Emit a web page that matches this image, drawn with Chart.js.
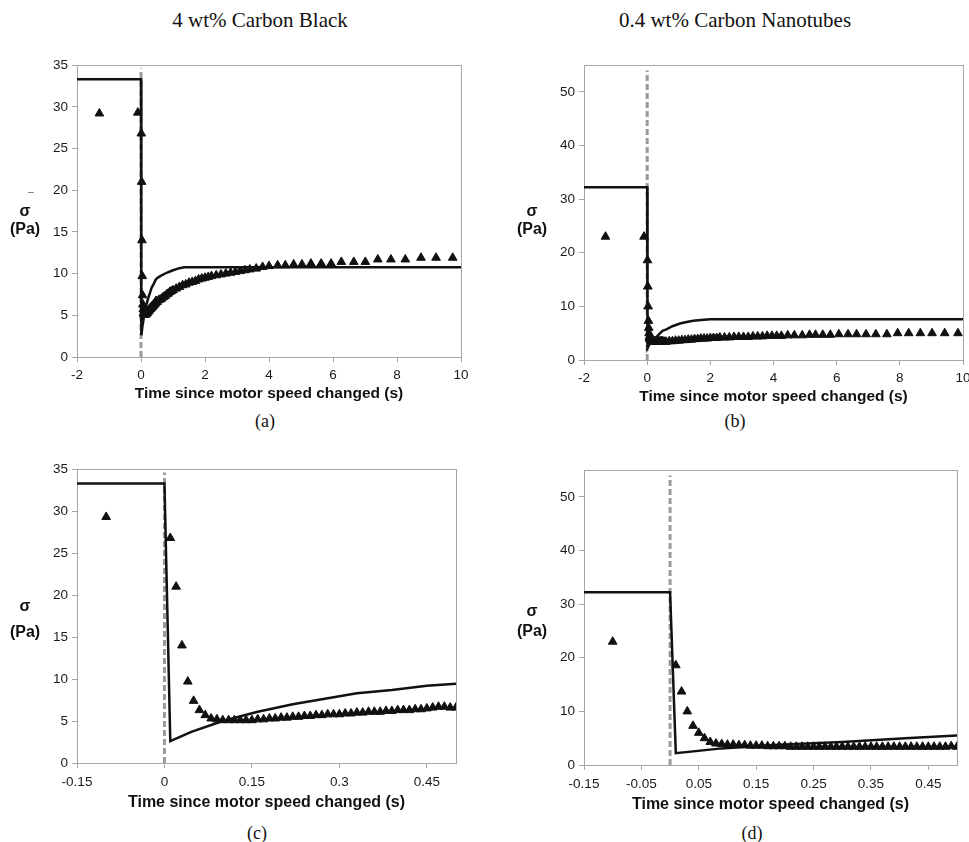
<!DOCTYPE html>
<html>
<head>
<meta charset="utf-8">
<title>Stress response after motor speed change</title>
<script src="https://cdn.jsdelivr.net/npm/chart.js@4.4.1/dist/chart.umd.min.js"></script>
<style>
  html, body { margin: 0; padding: 0; background: #fff; overflow: hidden; }
  body { width: 969px; height: 842px; position: relative; }
  .panel { position: absolute; }
  .head { position: absolute; font-family: 'Liberation Serif', 'Times New Roman', serif; font-size: 21px; color: #111; transform: translate(-50%, -50%); white-space: nowrap; }
  .tag { position: absolute; font-family: 'Liberation Serif', 'Times New Roman', serif; font-size: 18px; color: #111; transform: translate(-50%, -50%); }
  .ylab { position: absolute; font-family: 'Liberation Sans', Arial, sans-serif; font-weight: bold; font-size: 16px; color: #111; transform: translate(-50%, -50%); white-space: nowrap; }
</style>
</head>
<body>
<div class="head" style="left:260px; top:20px;">4 wt% Carbon Black</div>
<div class="head" style="left:735px; top:20px;">0.4 wt% Carbon Nanotubes</div>

<div class="panel" style="left:17px; top:53px; width:464px; height:354px;"><canvas id="chartA"></canvas></div>
<div class="panel" style="left:524px; top:53px; width:459px; height:357px;"><canvas id="chartB"></canvas></div>
<div class="panel" style="left:17px; top:457px; width:459px; height:359px;"><canvas id="chartC"></canvas></div>
<div class="panel" style="left:524px; top:458px; width:453px; height:360px;"><canvas id="chartD"></canvas></div>

<div class="ylab" style="left:31px; top:191px; font-size:10px; font-weight:normal; color:#555;">–</div>
<div class="ylab" style="left:25px; top:211px;">σ</div>
<div class="ylab" style="left:25px; top:229px;">(Pa)</div>
<div class="ylab" style="left:532px; top:211px;">σ</div>
<div class="ylab" style="left:532px; top:229px;">(Pa)</div>
<div class="ylab" style="left:25px; top:606px;">σ</div>
<div class="ylab" style="left:25px; top:632px;">(Pa)</div>
<div class="ylab" style="left:532px; top:611px;">σ</div>
<div class="ylab" style="left:532px; top:631px;">(Pa)</div>

<div class="tag" style="left:265px; top:421px;">(a)</div>
<div class="tag" style="left:735px; top:421px;">(b)</div>
<div class="tag" style="left:257px; top:833px;">(c)</div>
<div class="tag" style="left:752px; top:833px;">(d)</div>

<script>
// 4 wt% carbon black: measured stress (triangles), panels (a) and (c)
const cbTime = [-1.3, -0.1,
  0.01, 0.02, 0.03, 0.04, 0.05, 0.06, 0.07, 0.08, 0.09, 0.10,
  0.11, 0.12, 0.13, 0.14, 0.15, 0.16, 0.17, 0.18, 0.19, 0.20,
  0.21, 0.22, 0.23, 0.24, 0.25, 0.26, 0.27, 0.28, 0.29, 0.30,
  0.31, 0.32, 0.33, 0.34, 0.35, 0.36, 0.37, 0.38, 0.39, 0.40,
  0.41, 0.42, 0.43, 0.44, 0.45, 0.46, 0.47, 0.48, 0.49, 0.50,
  0.55, 0.60, 0.65, 0.70, 0.75, 0.80, 0.85, 0.90, 0.95, 1.0,
  1.1, 1.2, 1.3, 1.4, 1.5, 1.6, 1.7, 1.8, 1.9, 2.0,
  2.1, 2.2, 2.35, 2.5, 2.65, 2.8, 2.95, 3.1, 3.25, 3.4, 3.6, 3.8, 4.0,
  4.27, 4.51, 4.77, 5.03, 5.31, 5.63, 5.94, 6.26, 6.65, 7.01,
  7.40, 7.81, 8.26, 8.75, 9.22, 9.74];
const cbStress = [29.2, 29.3,
  26.8, 21.0, 14.0, 9.7, 7.4, 6.3, 5.7, 5.3, 5.2, 5.1,
  5.1, 5.1, 5.1, 5.1, 5.1, 5.2, 5.2, 5.3, 5.3, 5.4,
  5.4, 5.5, 5.5, 5.6, 5.6, 5.7, 5.7, 5.8, 5.8, 5.8,
  5.9, 5.9, 6.0, 6.0, 6.1, 6.1, 6.1, 6.2, 6.2, 6.3,
  6.3, 6.3, 6.4, 6.4, 6.5, 6.6, 6.7, 6.7, 6.6, 6.6,
  6.8, 6.9, 7.0, 7.2, 7.3, 7.5, 7.6, 7.8, 7.9, 8.0,
  8.2, 8.4, 8.6, 8.7, 8.9, 9.0, 9.1, 9.3, 9.4, 9.5,
  9.6, 9.7, 9.8, 9.9, 10.0, 10.1, 10.2, 10.3, 10.4, 10.5, 10.6, 10.8, 10.9,
  11.0, 11.0, 11.1, 11.1, 11.2, 11.2, 11.2, 11.4, 11.4, 11.4,
  11.7, 11.7, 11.7, 11.9, 11.9, 11.9];

// 4 wt% carbon black: model (solid line)
const cbModelTime = [-2, 0, 0.01, 0.046, 0.1, 0.16, 0.22, 0.28, 0.33, 0.39, 0.45, 0.5, 0.6, 0.8, 1.0, 1.2, 1.35, 10];
const cbModelStress = [33.3, 33.3, 2.6, 3.7, 5.0, 6.1, 7.0, 7.7, 8.3, 8.7, 9.2, 9.45, 9.7, 10.1, 10.4, 10.65, 10.75, 10.75];

// 0.4 wt% carbon nanotubes: measured stress, panels (b) and (d)
const cntTime = [-1.32, -0.1,
  0.01, 0.02, 0.03, 0.04, 0.05, 0.06, 0.07, 0.08, 0.09, 0.10,
  0.11, 0.12, 0.13, 0.14, 0.15, 0.16, 0.17, 0.18, 0.19, 0.20,
  0.21, 0.22, 0.23, 0.24, 0.25, 0.26, 0.27, 0.28, 0.29, 0.30,
  0.31, 0.32, 0.33, 0.34, 0.35, 0.36, 0.37, 0.38, 0.39, 0.40,
  0.41, 0.42, 0.43, 0.44, 0.45, 0.46, 0.47, 0.48, 0.49, 0.50,
  0.55, 0.6, 0.7, 0.8, 0.9, 1.0, 1.1, 1.2, 1.3, 1.4, 1.5, 1.6, 1.7, 1.8, 1.9, 2.0,
  2.1, 2.2, 2.3, 2.45, 2.6, 2.75, 2.9, 3.05, 3.2, 3.35, 3.5, 3.65, 3.8, 3.95, 4.1, 4.25, 4.45,
  4.66, 4.91, 5.14, 5.33, 5.56, 5.80, 6.07, 6.36, 6.63, 6.93, 7.24, 7.59,
  7.93, 8.28, 8.65, 9.02, 9.42, 9.84];
const cntStress = [23.0, 23.0,
  18.6, 13.7, 10.0, 7.3, 6.0, 5.0, 4.3, 4.0, 3.9, 3.8,
  3.8, 3.7, 3.7, 3.6, 3.6, 3.6, 3.5, 3.5, 3.5, 3.5,
  3.4, 3.4, 3.4, 3.4, 3.4, 3.4, 3.4, 3.4, 3.4, 3.4,
  3.4, 3.4, 3.4, 3.4, 3.4, 3.4, 3.4, 3.4, 3.4, 3.4,
  3.4, 3.4, 3.4, 3.4, 3.4, 3.4, 3.4, 3.4, 3.5, 3.4,
  3.4, 3.4, 3.5, 3.5, 3.6, 3.6, 3.7, 3.7, 3.8, 3.8, 3.9, 3.9, 4.0, 4.0, 4.0, 4.1,
  4.1, 4.1, 4.2, 4.2, 4.2, 4.3, 4.3, 4.3, 4.3, 4.4, 4.4, 4.4, 4.5, 4.5, 4.5, 4.5, 4.6,
  4.6, 4.6, 4.7, 4.7, 4.7, 4.7, 4.8, 4.8, 4.8, 4.8, 4.8, 4.8,
  5.0, 5.0, 5.0, 5.0, 5.0, 5.0];

// 0.4 wt% carbon nanotubes: model
const cntModelTime = [-2, 0, 0.01, 0.09, 0.19, 0.3, 0.41, 0.5, 0.61, 0.8, 1.04, 1.25, 1.46, 1.7, 2.0, 10];
const cntModelStress = [32.2, 32.2, 2.2, 3.1, 3.8, 4.3, 5.0, 5.5, 5.7, 6.3, 6.8, 7.1, 7.3, 7.45, 7.6, 7.6];

// dashed marker at the moment the motor speed changed
const markerTime = [0, 0];
const markerStressCB = [0, 34.6];
const markerStressCNT = [0, 54];

// axis ticks
const ticksLong = [-2, 0, 2, 4, 6, 8, 10];
const ticksShortC = [-0.15, 0, 0.15, 0.3, 0.45];
const ticksShortD = [-0.15, -0.05, 0.05, 0.15, 0.25, 0.35, 0.45];
const ticksY35 = [0, 5, 10, 15, 20, 25, 30, 35];
const ticksY55 = [0, 10, 20, 30, 40, 50];

Chart.defaults.font.family = "'Liberation Sans', Arial, sans-serif";

const pairs = (xs, ys) => xs.map((x, i) => ({x: x, y: ys[i]}));

// grey box round the plot area
const plotFrame = {
  id: 'plotFrame',
  beforeDatasetsDraw(chart) {
    const {ctx, chartArea} = chart;
    const l = Math.round(chartArea.left) + 0.5;
    const t = Math.round(chartArea.top) + 0.5;
    const r = Math.round(chartArea.right) + 0.5;
    const b = Math.round(chartArea.bottom) + 0.5;
    ctx.save();
    ctx.strokeStyle = '#a6a6a6';
    ctx.lineWidth = 1;
    ctx.strokeRect(l, t, r - l, b - t);
    ctx.restore();
  }
};

function makePanel(id, p) {
  return new Chart(document.getElementById(id), {
    type: 'scatter',
    data: {
      datasets: [
        {
          label: 'Model',
          data: pairs(p.modelTime, p.modelStress),
          showLine: true,
          borderColor: '#111',
          borderWidth: 2.5,
          pointRadius: 0,
          tension: 0
        },
        {
          label: 'Measured',
          data: pairs(p.time, p.stress),
          pointStyle: 'triangle',
          pointRadius: 5,
          backgroundColor: '#111',
          borderColor: '#111',
          borderWidth: 1
        },
        {
          label: 'Speed change',
          data: pairs(markerTime, p.markerStress),
          showLine: true,
          borderColor: '#9a9a9a',
          borderWidth: 3,
          borderDash: [6, 3],
          pointRadius: 0
        }
      ]
    },
    options: {
      responsive: true,
      maintainAspectRatio: false,
      animation: false,
      events: [],
      layout: { padding: { top: 10, right: 20, left: 0, bottom: 0 } },
      plugins: {
        legend: { display: false },
        tooltip: { enabled: false }
      },
      scales: {
        x: {
          type: 'linear',
          min: p.xMin,
          max: p.xMax,
          afterBuildTicks: s => { s.ticks = p.xTicks.map(v => ({value: v})); },
          afterFit: s => { s.height = p.xAxisHeight; },
          grid: { drawOnChartArea: false, tickLength: 5, color: '#a6a6a6' },
          border: { display: false },
          ticks: {
            padding: p.tickPad,
            color: '#1a1a1a',
            font: { size: 13.5 },
            maxRotation: 0,
            autoSkip: false,
            callback: v => String(v)
          },
          title: {
            display: true,
            text: 'Time since motor speed changed (s)',
            color: '#111',
            font: { size: p.titleSize, weight: 'bold' },
            padding: { top: 0, bottom: 4 }
          }
        },
        y: {
          type: 'linear',
          min: 0,
          max: p.yMax,
          afterBuildTicks: s => { s.ticks = p.yTicks.map(v => ({value: v})); },
          afterFit: s => { s.width = 60; },
          grid: { drawOnChartArea: false, tickLength: 5, color: '#a6a6a6' },
          border: { display: false },
          ticks: {
            padding: 4,
            color: '#1a1a1a',
            font: { size: 13.5 },
            autoSkip: false,
            callback: v => String(v)
          }
        }
      }
    },
    plugins: [plotFrame]
  });
}

makePanel('chartA', {
  time: cbTime, stress: cbStress, modelTime: cbModelTime, modelStress: cbModelStress,
  markerStress: markerStressCB, xMin: -2, xMax: 10, xTicks: ticksLong,
  yMax: 35, yTicks: ticksY35, xAxisHeight: 50, tickPad: 5, titleSize: 15.5
});
makePanel('chartB', {
  time: cntTime, stress: cntStress, modelTime: cntModelTime, modelStress: cntModelStress,
  markerStress: markerStressCNT, xMin: -2, xMax: 10, xTicks: ticksLong,
  yMax: 55, yTicks: ticksY55, xAxisHeight: 50, tickPad: 5, titleSize: 15.5
});
makePanel('chartC', {
  time: cbTime, stress: cbStress, modelTime: cbModelTime, modelStress: cbModelStress,
  markerStress: markerStressCB, xMin: -0.15, xMax: 0.5, xTicks: ticksShortC,
  yMax: 35, yTicks: ticksY35, xAxisHeight: 53, tickPad: 6, titleSize: 16
});
makePanel('chartD', {
  time: cntTime, stress: cntStress, modelTime: cntModelTime, modelStress: cntModelStress,
  markerStress: markerStressCNT, xMin: -0.15, xMax: 0.5, xTicks: ticksShortD,
  yMax: 55, yTicks: ticksY55, xAxisHeight: 53, tickPad: 6, titleSize: 16
});
</script>
</body>
</html>
